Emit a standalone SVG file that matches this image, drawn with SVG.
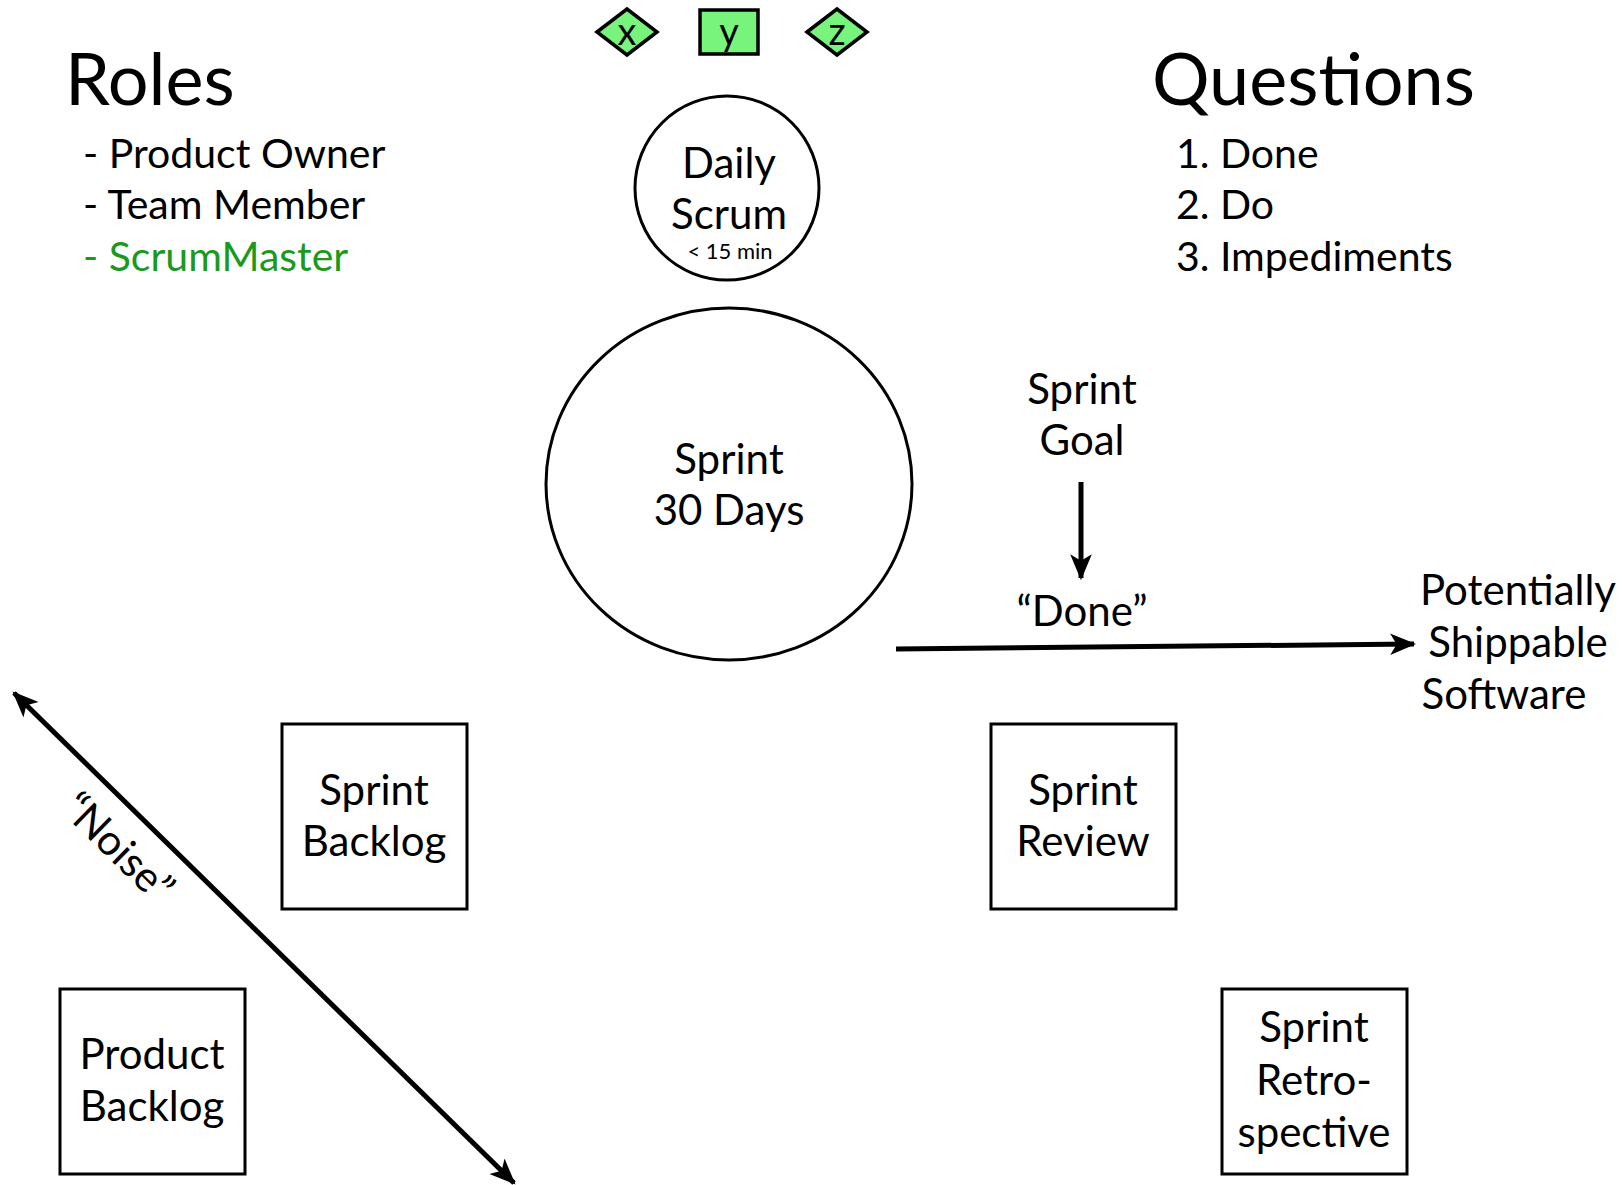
<svg xmlns="http://www.w3.org/2000/svg" width="1622" height="1185" viewBox="0 0 1622 1185">
<defs>
<style>
text{font-family:Lato,"Open Sans","Liberation Sans",sans-serif;fill:#000}
.t{font-size:42px;text-anchor:middle}
.h{font-size:72px}
.l{font-size:41px}
.node{fill:none;stroke:#000;stroke-width:3}
.tag{fill:#78f47c;stroke:#000;stroke-width:3.5}
.conn{stroke:#000;stroke-width:5;fill:none}
</style>
<marker id="arrow" viewBox="0 0 12 10" refX="11" refY="5" markerWidth="26" markerHeight="24" orient="auto-start-reverse" markerUnits="userSpaceOnUse">
<path d="M0,0 L12,5 L0,10 L3,5 Z" fill="#000"/>
</marker>
</defs>
<rect width="1622" height="1185" fill="#fff"/>

<g id="roles">
<text x="65" y="105" class="h">Roles</text>
<text x="83" y="168" class="l">- Product Owner</text>
<text x="83" y="219" class="l">- Team Member</text>
<text x="83" y="271" class="l" style="fill:#1a9a1a">- ScrumMaster</text>
</g>

<g id="questions">
<text x="1152" y="105" class="h">Questions</text>
<text x="1176" y="168" class="l">1. Done</text>
<text x="1176" y="219" class="l">2. Do</text>
<text x="1176" y="271" class="l">3. Impediments</text>
</g>

<g id="tag-x">
<polygon class="tag" points="597,32 627,9 657,32 627,55"/>
<text x="627" y="45" style="font-size:38px;text-anchor:middle">x</text>
</g>
<g id="tag-y">
<rect class="tag" x="700" y="10" width="58" height="44"/>
<text x="729" y="45" style="font-size:38px;text-anchor:middle">y</text>
</g>
<g id="tag-z">
<polygon class="tag" points="807,32 837,9 867,32 837,55"/>
<text x="837" y="45" style="font-size:38px;text-anchor:middle">z</text>
</g>

<g id="daily-scrum">
<circle class="node" cx="727" cy="188" r="92"/>
<text x="729" y="178" class="t">Daily</text>
<text x="729" y="229" class="t">Scrum</text>
<text x="730" y="259" style="font-size:22px;text-anchor:middle">&lt; 15 min</text>
</g>

<g id="sprint">
<ellipse class="node" cx="729" cy="484" rx="183" ry="176"/>
<text x="729" y="474" class="t">Sprint</text>
<text x="729" y="525" class="t">30 Days</text>
</g>

<g id="sprint-goal">
<text x="1082" y="404" class="t">Sprint</text>
<text x="1082" y="455" class="t">Goal</text>
</g>

<g id="done">
<text x="1082" y="626" class="t">“Done”</text>
</g>

<g id="shippable">
<text x="1518" y="605" class="t">Potentially</text>
<text x="1518" y="657" class="t">Shippable</text>
<text x="1504" y="709" class="t">Software</text>
</g>

<g id="sprint-backlog">
<rect class="node" x="282" y="724" width="185" height="185"/>
<text x="374" y="805" class="t">Sprint</text>
<text x="374" y="856" class="t">Backlog</text>
</g>

<g id="sprint-review">
<rect class="node" x="991" y="724" width="185" height="185"/>
<text x="1083" y="805" class="t">Sprint</text>
<text x="1083" y="856" class="t">Review</text>
</g>

<g id="product-backlog">
<rect class="node" x="60" y="989" width="185" height="185"/>
<text x="152" y="1069" class="t">Product</text>
<text x="152" y="1121" class="t">Backlog</text>
</g>

<g id="sprint-retrospective">
<rect class="node" x="1222" y="989" width="185" height="185"/>
<text x="1314" y="1042" class="t">Sprint</text>
<text x="1314" y="1095" class="t">Retro-</text>
<text x="1314" y="1147" class="t">spective</text>
</g>

<g id="connectors">
<line class="conn" x1="1081" y1="482" x2="1081" y2="578" marker-end="url(#arrow)"/>
<line class="conn" x1="896" y1="649" x2="1414" y2="644" marker-end="url(#arrow)"/>
<line class="conn" x1="14" y1="693" x2="514" y2="1183" marker-start="url(#arrow)" marker-end="url(#arrow)"/>
<text transform="translate(108,858) rotate(44.4)" class="t">“Noise”</text>
</g>
</svg>
